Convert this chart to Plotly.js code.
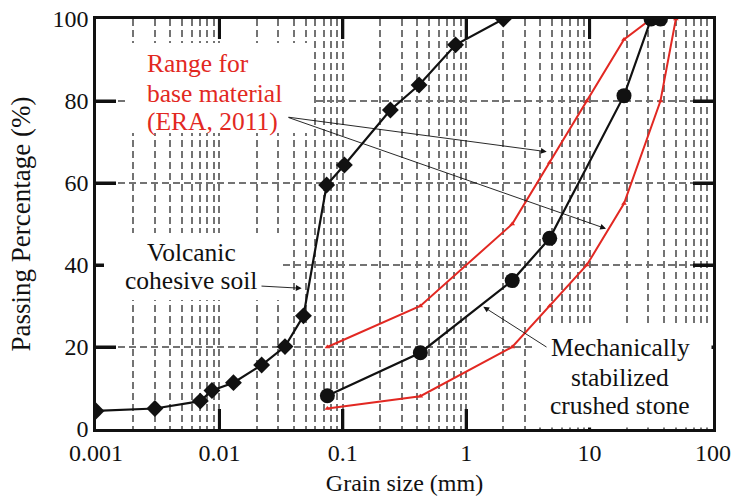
<!DOCTYPE html>
<html>
<head>
<meta charset="utf-8">
<script src="https://cdn.plot.ly/plotly-3.0.1.min.js"></script>
<style>html,body{margin:0;padding:0;background:#fff;}#chart{width:738px;height:498px;}</style>
</head>
<body>
<div id="chart"></div>
<script>
// ---- data ----
const soilSize = [0.001, 0.003, 0.007, 0.0087, 0.013, 0.022, 0.034, 0.048, 0.074, 0.103, 0.243, 0.415, 0.82, 2];
const soilPass = [4.4, 5.0, 6.8, 9.4, 11.3, 15.6, 20.1, 27.6, 59.5, 64.4, 77.8, 83.9, 93.7, 100];

const stoneSize = [0.075, 0.425, 2.36, 4.75, 19, 31.5, 37.5];
const stonePass = [8.1, 18.6, 36.2, 46.5, 81.3, 100, 100];

const upperSize = [0.075, 0.425, 2.36, 4.75, 9.5, 19, 31.5];
const upperPass = [20, 30, 50, 65, 80, 95, 100];

const lowerSize = [0.075, 0.425, 2.36, 4.75, 9.5, 19, 37.5, 50];
const lowerPass = [5, 8, 20, 30, 40, 55, 80, 100];

const xTickVals = [0.001, 0.01, 0.1, 1, 10, 100];
const xTickText = ['0.001', '0.01', '0.1', '1', '10', '100'];
const yTickVals = [0, 20, 40, 60, 80, 100];
const yTickText = ['0', '20', '40', '60', '80', '100'];

// ---- styles ----
const FONT = 'Liberation Serif, Times New Roman, serif';
const RED = 'rgb(226,40,34)';
const GRID = '#737373';
const DASH = '7px,4px';

// minor grid positions (2..9 in each decade)
const minorVals = [];
for (let d = -3; d < 2; d++) for (let m = 2; m <= 9; m++) minorVals.push(m * Math.pow(10, d));

// plot area in pixels -> paper coords
const L = 96, R = 713, T = 19, B = 429;
const PX = p => (p - L) / (R - L);
const PY = p => (B - p) / (B - T);
const XMIN = -3, XMAX = 2, YMIN = 0, YMAX = 100;
const TICKLEN = 20;

const traces = [
  {x: upperSize, y: upperPass, mode: 'lines+markers', line: {color: RED, width: 2},
   marker: {symbol: 'triangle-up', size: 5, color: RED}, hoverinfo: 'skip'},
  {x: lowerSize, y: lowerPass, mode: 'lines+markers', line: {color: RED, width: 2},
   marker: {symbol: 'triangle-up', size: 5, color: RED}, hoverinfo: 'skip'},
  {x: soilSize, y: soilPass, mode: 'lines+markers', line: {color: '#111', width: 2.2},
   marker: {symbol: 'diamond', size: 13, color: '#111'}},
  {x: stoneSize, y: stonePass, mode: 'lines+markers', line: {color: '#111', width: 2.2},
   marker: {symbol: 'circle', size: 15, color: '#111'}}
];

// axis tick marks (inside, mirrored) as decoration derived from the tick values
const tickShapes = [];
const tl = {color: '#111', width: 3};
xTickVals.slice(1, -1).forEach(v => {
  const xp = (Math.log10(v) - XMIN) / (XMAX - XMIN);
  tickShapes.push({type: 'line', xref: 'paper', yref: 'paper', x0: xp, x1: xp, y0: 0, y1: TICKLEN / (B - T), line: tl, layer: 'above'});
  tickShapes.push({type: 'line', xref: 'paper', yref: 'paper', x0: xp, x1: xp, y0: 1, y1: 1 - TICKLEN / (B - T), line: tl, layer: 'above'});
});
yTickVals.slice(1, -1).forEach(v => {
  const yp = (v - YMIN) / (YMAX - YMIN);
  tickShapes.push({type: 'line', xref: 'paper', yref: 'paper', y0: yp, y1: yp, x0: 0, x1: TICKLEN / (R - L), line: tl, layer: 'above'});
  tickShapes.push({type: 'line', xref: 'paper', yref: 'paper', y0: yp, y1: yp, x0: 1, x1: 1 - TICKLEN / (R - L), line: tl, layer: 'above'});
});

function box(x0, y0, x1, y1) {
  return {type: 'rect', xref: 'paper', yref: 'paper', x0: PX(x0), x1: PX(x1), y0: PY(y1), y1: PY(y0),
          fillcolor: '#fff', line: {width: 0}, layer: 'above'};
}

function txt(t, x, y, color, anchor) {
  return {text: t, xref: 'paper', yref: 'paper', x: PX(x), y: PY(y), xanchor: anchor, yanchor: 'middle',
          showarrow: false, font: {family: FONT, size: 25.5, color: color}};
}
function arrow(hx, hy, tx, ty) {
  return {text: '', xref: 'paper', yref: 'paper', x: PX(hx), y: PY(hy), ax: tx - hx, ay: ty - hy,
          showarrow: true, arrowhead: 2, arrowsize: 1.3, arrowwidth: 0.9, arrowcolor: '#111', standoff: 0};
}

const layout = {
  width: 738, height: 498,
  margin: {l: L, r: 738 - R, t: T, b: 498 - B},
  paper_bgcolor: '#fff', plot_bgcolor: '#fff',
  showlegend: false,
  font: {family: FONT, color: '#111'},
  xaxis: {
    type: 'log', range: [XMIN, XMAX],
    tickmode: 'array', tickvals: xTickVals, ticktext: xTickText,
    ticks: 'inside', ticklen: TICKLEN, tickwidth: 3, tickcolor: '#111',
    showline: true, linewidth: 2.8, linecolor: '#111', mirror: 'ticks',
    showgrid: true, gridcolor: GRID, gridwidth: 2, griddash: DASH,
    minor: {tickmode: 'array', tickvals: minorVals, ticks: '', showgrid: true, gridcolor: GRID, gridwidth: 2, griddash: DASH},
    tickfont: {family: FONT, size: 24, color: '#111'},
    title: {text: 'Grain size (mm)', font: {family: FONT, size: 24, color: '#111'}, standoff: 10},
    zeroline: false
  },
  yaxis: {
    range: [YMIN, YMAX],
    tickmode: 'array', tickvals: yTickVals, ticktext: yTickText,
    ticks: 'inside', ticklen: TICKLEN, tickwidth: 3, tickcolor: '#111',
    showline: true, linewidth: 2.8, linecolor: '#111', mirror: 'ticks',
    showgrid: true, gridcolor: GRID, gridwidth: 2, griddash: DASH,
    tickfont: {family: FONT, size: 24, color: '#111'},
    ticksuffix: '\u2009',
    title: {text: 'Passing Percentage (%)', font: {family: FONT, size: 27, color: '#111'}, standoff: 14},
    zeroline: false
  },
  shapes: tickShapes.concat([
    box(125, 43, 313, 133),
    box(104, 233, 279, 300),
    box(533, 327, 711.5, 427.5)
  ]),
  annotations: [
    txt('Range for', 145, 63.5, RED, 'left'),
    txt('base material', 145, 93.5, RED, 'left'),
    txt('(ERA, 2011)', 145, 121, RED, 'left'),
    txt('Volcanic', 191, 252, '#111', 'center'),
    txt('cohesive soil', 191, 280, '#111', 'center'),
    txt('Mechanically', 620, 347, '#111', 'center'),
    txt('stabilized', 620, 377, '#111', 'center'),
    txt('crushed stone', 620, 405, '#111', 'center'),
    arrow(546.7, 151.7, 287, 117),
    arrow(606, 228.7, 287, 117),
    arrow(301.7, 288.3, 260, 286),
    arrow(483.3, 306.7, 548, 348)
  ]
};

Plotly.newPlot('chart', traces, layout, {displayModeBar: false, staticPlot: true});
</script>
</body>
</html>
